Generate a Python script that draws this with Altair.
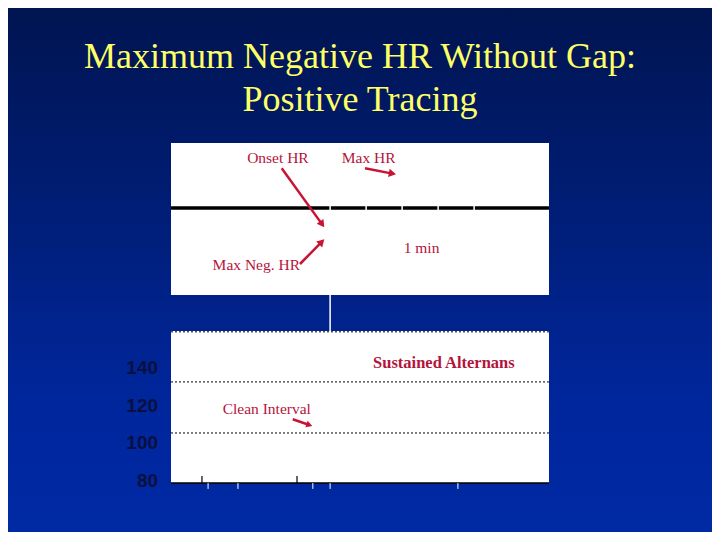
import math
import altair as alt
import pandas as pd

# ---------------- data ----------------
title_lines = ["Maximum Negative HR Without Gap:", "Positive Tracing"]

time_domain = [-4.528, 15.028]      # minutes (shared horizontal scale)
hr_domain = [52.92, 331.15]         # bpm (bottom panel scale)
level_domain = [-324.0, 200.0]      # arbitrary level (top panel scale)

panel_start = 0.0
panel_end = 10.5

# top panel
top_low, top_high = -87.0, 65.0
trend_level = 0.0
minute_marks = [4.42, 5.42, 6.42, 7.42, 8.42]
top_text = ["Onset HR", "Max HR", "1 min", "Max Neg. HR"]
top_text_t = [2.97, 5.49, 6.96, 2.37]
top_text_level = [50.0, 50.0, -40.0, -57.0]
top_arrow_t0 = [3.075, 5.389, 3.583]
top_arrow_v0 = [39.7, 39.7, -56.0]
top_arrow_t1 = [4.258, 6.250, 4.258]
top_arrow_v1 = [-19.3, 33.7, -31.3]

# bottom panel
hr_low, hr_high = 78.9, 159.6
hr_ticks = [140, 120, 100, 80]
hr_tick_t = -0.36
hr_dotted = [159.2, 132.6, 105.5]
bold_text = ["Sustained Alternans"]
bold_text_t = [7.58]
bold_text_hr = [142.7]
plain_text = ["Clean Interval"]
plain_text_t = [2.66]
plain_text_hr = [118.0]
bottom_arrow_t0 = [3.381]
bottom_arrow_hr0 = [112.8]
bottom_arrow_t1 = [3.925]
bottom_arrow_hr1 = [109.2]
black_ticks_t = [0.86, 3.50]
black_tick_top = 82.6
white_ticks_t = [1.03, 1.86, 3.94, 4.42, 7.97]
white_tick_bottom = 75.8
gap_line_t = [4.42]
gap_line_top = 178.8

# ---------------- styling ----------------
W, H = 704, 524
RED_TEXT = "#b4143c"
RED_ARROW = "#c81434"
HEAD_SIZE = 70

x_scale = alt.Scale(domain=time_domain, nice=False, zero=False)
hr_scale = alt.Scale(domain=hr_domain, nice=False, zero=False)
lv_scale = alt.Scale(domain=level_domain, nice=False, zero=False)

px_t = W / (time_domain[1] - time_domain[0])
px_hr = H / (hr_domain[1] - hr_domain[0])
px_lv = H / (level_domain[1] - level_domain[0])


def arrows(t0, v0, t1, v1, pv, size):
    back = math.sqrt(3) * (math.sqrt(size) / 2) / 2
    rows = []
    for a, b, c, d in zip(t0, v0, t1, v1):
        dx = (c - a) * px_t
        dy = -(d - b) * pv
        L = math.hypot(dx, dy)
        ux, uy = dx / L, dy / L
        ang = math.degrees(math.atan2(ux, -uy)) % 360
        ht = c - back * ux / px_t
        hv = d + back * uy / pv
        rows.append(dict(t0=a, v0=b, t1=ht, v1=hv, angle=ang))
    return pd.DataFrame(rows)


X = lambda f: alt.X(f, scale=x_scale, axis=None)

# background gradient
bg = alt.Chart(pd.DataFrame({"a": [0]})).mark_rect(
    color=alt.Gradient(
        gradient="linear",
        stops=[alt.GradientStop(color="#001450", offset=0),
               alt.GradientStop(color="#001e78", offset=0.4),
               alt.GradientStop(color="#00269c", offset=0.75),
               alt.GradientStop(color="#0029a4", offset=1)],
        x1=0, x2=0, y1=0, y2=1,
    )
).encode(x=alt.value(0), x2=alt.value("width"), y=alt.value(0), y2=alt.value("height"))

# ---------- top panel ----------
YL = lambda f: alt.Y(f, scale=lv_scale, axis=None)

top_rect = alt.Chart(pd.DataFrame({"t0": [panel_start], "t1": [panel_end],
                                   "v0": [top_low], "v1": [top_high]})).mark_rect(
    color="white").encode(x=X("t0:Q"), x2="t1", y=YL("v0:Q"), y2="v1")

trend = alt.Chart(pd.DataFrame({"t0": [panel_start], "t1": [panel_end],
                                "v": [trend_level]})).mark_rule(
    color="black", strokeWidth=3.5).encode(x=X("t0:Q"), x2="t1", y=YL("v:Q"))

trend_ticks = alt.Chart(pd.DataFrame({"t": minute_marks})).transform_calculate(
    a=str(trend_level - 3), b=str(trend_level + 4)
).mark_rule(color="white", strokeWidth=1.5).encode(x=X("t:Q"), y=YL("a:Q"), y2="b:Q")

top_labels = alt.Chart(pd.DataFrame({"txt": top_text, "t": top_text_t,
                                     "v": top_text_level})).mark_text(
    font="Liberation Serif", fontSize=15.5, color=RED_TEXT, align="center", baseline="middle"
).encode(x=X("t:Q"), y=YL("v:Q"), text="txt:N")

ta = arrows(top_arrow_t0, top_arrow_v0, top_arrow_t1, top_arrow_v1, px_lv, HEAD_SIZE)
top_arrow_lines = alt.Chart(ta).mark_rule(color=RED_ARROW, strokeWidth=2.5).encode(
    x=X("t0:Q"), x2="t1", y=YL("v0:Q"), y2="v1")
top_arrow_heads = alt.Chart(ta).mark_point(
    shape="triangle-up", filled=True, color=RED_ARROW, size=HEAD_SIZE, opacity=1
).encode(x=X("t1:Q"), y=YL("v1:Q"), angle=alt.Angle("angle:Q", scale=None))

top_layer = alt.layer(top_rect, trend, trend_ticks, top_arrow_lines, top_arrow_heads, top_labels)

# ---------- bottom panel ----------
YH = lambda f: alt.Y(f, scale=hr_scale, axis=None)

bot_rect = alt.Chart(pd.DataFrame({"t0": [panel_start], "t1": [panel_end],
                                   "v0": [hr_low], "v1": [hr_high]})).mark_rect(
    color="white").encode(x=X("t0:Q"), x2="t1", y=YH("v0:Q"), y2="v1")

gap_line = alt.Chart(pd.DataFrame({"t": gap_line_t, "a": [hr_high], "b": [gap_line_top]})).mark_rule(
    color="white", strokeWidth=1.5).encode(x=X("t:Q"), y=YH("a:Q"), y2="b:Q")

dotted = alt.Chart(pd.DataFrame({"hr": hr_dotted, "t0": panel_start, "t1": panel_end})).mark_rule(
    color="black", strokeWidth=1, strokeDash=[2, 2]).encode(x=X("t0:Q"), x2="t1", y=YH("hr:Q"))

bottom_edge = alt.Chart(pd.DataFrame({"hr": [hr_low], "t0": [panel_start], "t1": [panel_end]})).mark_rule(
    color="black", strokeWidth=1.5).encode(x=X("t0:Q"), x2="t1", y=YH("hr:Q"))

black_ticks = alt.Chart(pd.DataFrame({"t": black_ticks_t, "a": hr_low, "b": black_tick_top})).mark_rule(
    color="black", strokeWidth=1.2).encode(x=X("t:Q"), y=YH("a:Q"), y2="b:Q")

white_ticks = alt.Chart(pd.DataFrame({"t": white_ticks_t, "a": hr_low, "b": white_tick_bottom})).mark_rule(
    color="white", strokeWidth=1).encode(x=X("t:Q"), y=YH("a:Q"), y2="b:Q")

hr_labels = alt.Chart(pd.DataFrame({"hr": hr_ticks, "t": hr_tick_t})).mark_text(
    font="Liberation Sans", fontWeight="bold", fontSize=19, color="#0a1040",
    align="right", baseline="middle"
).encode(x=X("t:Q"), y=YH("hr:Q"), text="hr:N")

bold_labels = alt.Chart(pd.DataFrame({"txt": bold_text, "t": bold_text_t, "hr": bold_text_hr})).mark_text(
    font="Liberation Serif", fontSize=16.5, fontWeight="bold", color=RED_TEXT,
    align="center", baseline="middle"
).encode(x=X("t:Q"), y=YH("hr:Q"), text="txt:N")

plain_labels = alt.Chart(pd.DataFrame({"txt": plain_text, "t": plain_text_t, "hr": plain_text_hr})).mark_text(
    font="Liberation Serif", fontSize=15.5, color=RED_TEXT, align="center", baseline="middle"
).encode(x=X("t:Q"), y=YH("hr:Q"), text="txt:N")

ba = arrows(bottom_arrow_t0, bottom_arrow_hr0, bottom_arrow_t1, bottom_arrow_hr1, px_hr, 50)
bot_arrow_lines = alt.Chart(ba).mark_rule(color=RED_ARROW, strokeWidth=2.5).encode(
    x=X("t0:Q"), x2="t1", y=YH("v0:Q"), y2="v1")
bot_arrow_heads = alt.Chart(ba).mark_point(
    shape="triangle-up", filled=True, color=RED_ARROW, size=50, opacity=1
).encode(x=X("t1:Q"), y=YH("v1:Q"), angle=alt.Angle("angle:Q", scale=None))

bottom_layer = alt.layer(bot_rect, gap_line, dotted, bottom_edge, black_ticks, white_ticks,
                         bot_arrow_lines, bot_arrow_heads, hr_labels, bold_labels, plain_labels)

chart = alt.layer(bg, top_layer, bottom_layer).resolve_scale(y="independent").properties(
    width=W, height=H, padding=0,
    autosize=alt.AutoSizeParams(type="fit", contains="padding"),
    background="#001450",
    title=alt.TitleParams(text=title_lines, font="Liberation Serif", fontSize=36,
                          fontWeight="normal", color="#ffff66", lineHeight=43,
                          anchor="middle", offset=-111),
).configure_view(stroke=None)

chart.save("out.html", embed_options={"renderer": "svg", "actions": False})
